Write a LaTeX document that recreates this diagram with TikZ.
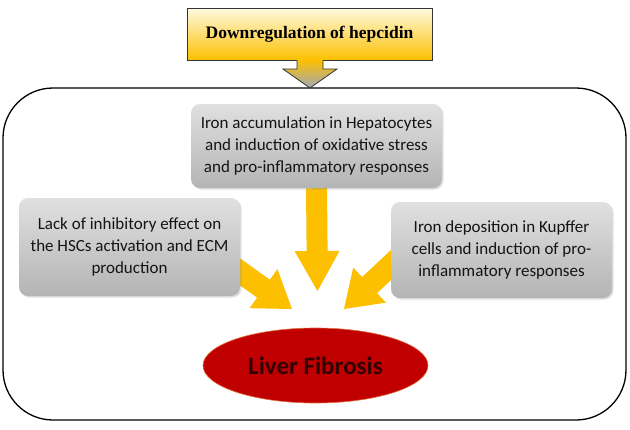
\documentclass[tikz,border=0pt]{standalone}
\usepackage{fontspec}
\setmainfont{Carlito}
\newfontfamily\titlefont{Liberation Serif}
\usetikzlibrary{calc,shadows,shapes.geometric}
\pgfdeclarelayer{bg}\pgfdeclarelayer{mid}
\pgfsetlayers{bg,mid,main}
\definecolor{gold}{RGB}{252,192,0}
\definecolor{paleyellow}{RGB}{255,250,225}
\definecolor{tipgray}{RGB}{160,168,185}
\definecolor{boxtop}{RGB}{224,224,224}
\definecolor{boxbot}{RGB}{180,180,180}
\definecolor{fibred}{RGB}{192,0,0}
\definecolor{fibedge}{RGB}{225,110,60}
\definecolor{txtdark}{RGB}{20,20,20}
\newcommand{\blockarrow}[5]{%
  \coordinate (hb) at ($(#2)!#5!(#1)$);
  \fill[arrowfill] ($(#1)!#3!90:(#2)$) -- ($(hb)!#3!90:(#2)$) -- ($(hb)!#4!90:(#2)$) -- (#2)
    -- ($(hb)!#4!-90:(#2)$) -- ($(hb)!#3!-90:(#2)$) -- ($(#1)!#3!-90:(#2)$) -- cycle;}
\tikzset{
  graybox/.style={draw=none, rounded corners=9pt, top color=boxtop, bottom color=boxbot,
    drop shadow={opacity=0.25, shadow xshift=1.5pt, shadow yshift=-1.5pt},
    align=center, text=txtdark, font=\fontsize{17}{22}\selectfont, inner sep=0pt},
  arrowfill/.style={fill=gold},
}
\begin{document}
\begin{tikzpicture}[x=1pt,y=-1pt]
\useasboundingbox (0,0) rectangle (630,429);
\begin{pgfonlayer}{bg}
\fill[white] (0,0) rectangle (630,429);
\draw[line width=1.3pt, rounded corners=50pt] (3,88) rectangle (626,420);
\end{pgfonlayer}
% title callout
\node[draw=black!80, line width=0.8pt, top color=paleyellow, bottom color=gold,
  minimum width=245pt, minimum height=52pt, inner sep=0pt,
  font=\titlefont\bfseries\fontsize{17.5}{20}\selectfont] (title) at (309.5,34) {Downregulation of hepcidin};
\shade[top color=gold, bottom color=tipgray, draw=black!80, line width=0.8pt]
  (297,60) -- (297,69) -- (283,69) -- (310,88) -- (337,69) -- (323,69) -- (323,60);
% nodes
\node[graybox, minimum width=251pt, minimum height=84pt] (hep) at (316.5,146)
  {Iron accumulation in Hepatocytes\\and induction of oxidative stress\\and pro-inflammatory responses};
\node[graybox, minimum width=221pt, minimum height=98pt] (hsc) at (129.5,247)
  {Lack of inhibitory effect on\\the HSCs activation and ECM\\production};
\node[graybox, minimum width=221pt, minimum height=96pt] (kup) at (501.5,250)
  {Iron deposition in Kupffer\\cells and induction of pro-\\inflammatory responses};
\node[ellipse, fill=fibred, draw=fibedge, line width=0.6pt, minimum width=225pt, minimum height=75pt,
  inner sep=0pt, font=\bfseries\fontsize{25}{28}\selectfont, text=black!80!red] (lf) at (315.5,365.5) {Liver Fibrosis};
% arrows
\begin{pgfonlayer}{mid}
\coordinate (vt) at (317.5,291);
\blockarrow{hep.south}{vt}{10.5pt}{22.5pt}{40pt}
\coordinate (la) at (215,254);
\coordinate (lt) at (292,309);
\blockarrow{la}{lt}{11pt}{24pt}{35pt}
\coordinate (ra) at (405,252);
\coordinate (rt) at (344,309);
\blockarrow{ra}{rt}{11pt}{24pt}{35pt}
\end{pgfonlayer}
\end{tikzpicture}
\end{document}
